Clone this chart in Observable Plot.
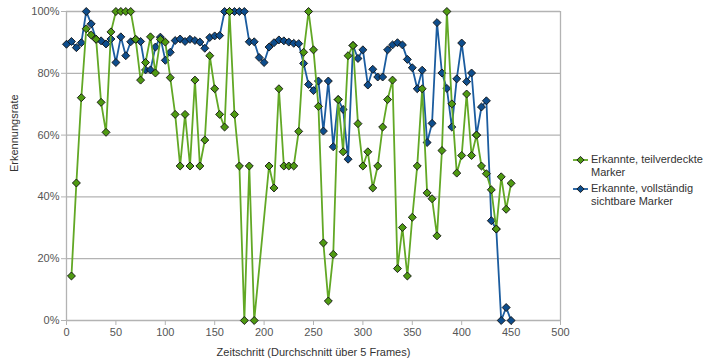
<!DOCTYPE html>
<html><head><meta charset="utf-8">
<script src="https://cdn.jsdelivr.net/npm/d3@7"></script>
<script src="https://cdn.jsdelivr.net/npm/@observablehq/plot@0.6"></script>
<style>
body{margin:0;background:#fff;font-family:"Liberation Sans",Arial,sans-serif;}
#wrap{position:relative;width:704px;height:363px;}
#legend{position:absolute;left:572px;top:153px;font-size:11px;color:#333;line-height:12.7px}
.item{display:flex;align-items:flex-start;margin-bottom:3.6px}
.item svg{flex:none;margin-right:2px}
</style></head><body>
<div id="wrap"><div id="legend"></div></div>
<script>
// Time steps (averaged over 5 frames)
const steps = [0,5,10,15,20,25,30,35,40,45,50,55,60,65,70,75,80,85,90,95,100,105,110,115,120,125,130,135,140,145,150,155,160,165,170,175,180,185,190,195,200,205,210,215,220,225,230,235,240,245,250,255,260,265,270,275,280,285,290,295,300,305,310,315,320,325,330,335,340,345,350,355,360,365,370,375,380,385,390,395,400,405,410,415,420,425,430,435,440,445,450];

// Fully visible markers (%)
const visible = [89.4,90.3,88.3,89.9,100,96.0,91.0,90.5,89.5,91.1,83.5,91.8,85.7,90.2,91.0,90.3,81.1,81.1,88.5,91.7,84.2,86.8,90.6,91.1,90.3,91.0,90.6,90.1,88.1,91.6,92.1,92.2,100,100,100,100,100,90.2,90.2,85.1,83.5,88.5,89.9,90.8,90.5,90.1,89.7,89.6,83.2,76.4,74.4,77.5,61.3,77.5,56.2,71.5,68.3,52.2,89.0,84.8,87.6,76.2,81.3,78.8,78.8,87.6,89.2,89.9,89.2,84.5,81.8,75.0,81.0,57.6,63.8,96.4,80.1,75.1,62.6,78.2,89.8,77.3,80.1,60.0,69.1,71.1,32.3,29.6,0,4.2,0];

// Partially occluded markers (%), null = no value at that step
const occluded = [null,14.4,44.5,72.1,94.4,92.4,91.0,70.6,60.9,93.4,100,100,100,100,91.0,77.8,83.5,91.8,80.1,91.0,90.1,78.6,66.7,50.0,66.7,50.0,77.8,50.0,58.4,85.7,75.0,66.7,62.6,100,66.7,50.0,0,50.0,0,null,null,50.0,42.9,75.0,50.0,50.0,50.0,61.2,86.8,100,87.6,69.3,25.1,6.3,21.4,71.5,54.6,85.7,89.0,63.7,50.0,54.6,42.9,50.0,62.6,71.5,77.8,16.8,30.1,14.4,33.4,50.0,75.0,41.3,39.4,27.4,55.0,100,70.1,47.7,53.4,73.3,53.4,60.0,50.0,47.5,42.3,29.6,46.5,36.0,44.4];

const xTicks = [0,50,100,150,200,250,300,350,400,450,500];
const yTicks = [0,20,40,60,80,100];
const seriesNames = ["Erkannte, teilverdeckte Marker", "Erkannte, vollständig sichtbare Marker"];
const seriesLegend = [["Erkannte, teilverdeckte", "Marker"], ["Erkannte, vollständig", "sichtbare Marker"]];
const xLabel = "Zeitschritt (Durchschnitt über 5 Frames)";
const yLabel = "Erkennungsrate";

const greenLine = "#62a825", greenFill = "#4f9a12";
const blueLine = "#1b5c9f", blueFill = "#0e4d8c";
const gridColor = "#b3b3b3";

const blueData = steps.map((x, i) => ({x, v: visible[i]})).filter(d => d.v != null);
const greenData = steps.map((x, i) => ({x, v: occluded[i]})).filter(d => d.v != null);

const plot = Plot.plot({
  width: 704, height: 363,
  marginLeft: 66, marginRight: 144, marginTop: 11, marginBottom: 43,
  style: {fontFamily: "'Liberation Sans', Arial, sans-serif", fontSize: "11px", background: "#fff", overflow: "visible"},
  x: {domain: [0, 500]},
  y: {domain: [0, 100]},
  marks: [
    Plot.ruleY(yTicks, {stroke: gridColor, strokeWidth: 1.3}),
    Plot.ruleX([0, 500], {stroke: gridColor, strokeWidth: 1.3}),
    Plot.axisX(xTicks, {tickSize: 5, tickPadding: 3, stroke: gridColor, fill: "#555", label: null}),
    Plot.axisY(yTicks, {tickSize: 5, tickPadding: 2, stroke: gridColor, fill: "#555", tickFormat: d => d + "%", label: null}),
    Plot.line(blueData, {x: "x", y: "v", stroke: blueLine, strokeWidth: 1.8}),
    Plot.dot(blueData, {x: "x", y: "v", symbol: "diamond2", r: 3.6, fill: blueFill, stroke: "#111", strokeWidth: 0.9}),
    Plot.line(greenData, {x: "x", y: "v", stroke: greenLine, strokeWidth: 1.8}),
    Plot.dot(greenData, {x: "x", y: "v", symbol: "diamond2", r: 3.6, fill: greenFill, stroke: "#111", strokeWidth: 0.9}),
    Plot.text([yLabel], {frameAnchor: "left", dx: -52, dy: 6, rotate: -90, fill: "#333", fontSize: 11}),
    Plot.text([xLabel], {frameAnchor: "bottom", dy: 35, fill: "#333", fontSize: 11})
  ]
});
document.getElementById("wrap").prepend(plot);

const legend = document.getElementById("legend");
[[greenLine, greenFill], [blueLine, blueFill]].forEach(([lc, fc], i) => {
  const item = document.createElement("div");
  item.className = "item";
  item.title = seriesNames[i];
  item.innerHTML = `<svg width="17" height="13"><line x1="1" x2="16" y1="7" y2="7" stroke="${lc}" stroke-width="1.8"/><path d="M8.5,3.4L12.1,7L8.5,10.6L4.9,7Z" fill="${fc}" stroke="#111" stroke-width="0.9"/></svg><div>${seriesLegend[i].join("<br>")}</div>`;
  legend.appendChild(item);
});
</script>
</body></html>
